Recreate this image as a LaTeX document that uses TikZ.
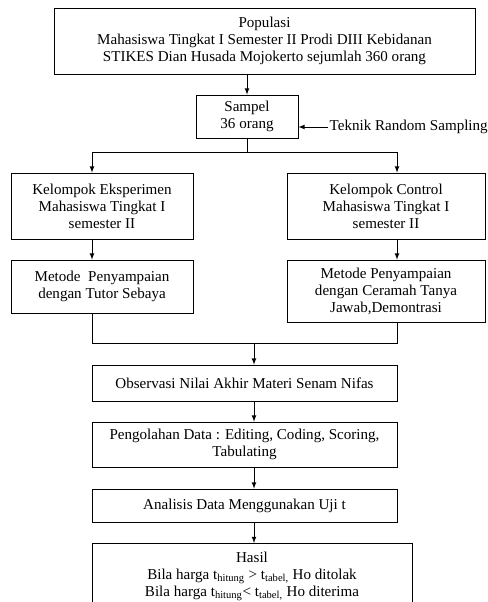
\documentclass[tikz,border=0pt]{standalone}
\usepackage{fontspec}
\setmainfont{Liberation Serif}
\usepackage{tikz}
\usetikzlibrary{positioning}
\usetikzlibrary{shapes.geometric, arrows}
\tikzstyle{arrow} = [->,>=latex]
\tikzstyle{box} = [draw, rectangle, align=center, inner sep=0pt]

\begin{document}
\begin{tikzpicture}[x=0.75pt,y=-0.75pt,line width=0.6pt,
	font=\fontsize{11.3}{12.8}\selectfont]
	\clip (0,0) rectangle (487,602);
	
	%Nodes
	\node [box, minimum width=421*0.75pt, minimum height=66*0.75pt] (populasi) at (264.5,41)
		{Populasi\\Mahasiswa Tingkat I Semester II Prodi DIII Kebidanan\\STIKES Dian Husada Mojokerto sejumlah 360 orang};
	\node [box, minimum width=102*0.75pt, minimum height=43*0.75pt] (sampel) at (247,116.5)
		{Sampel\\36 orang};
	\node [anchor=west, inner sep=1pt] (teknik) at (328,127) {Teknik Random Sampling};
	
	\node [box, minimum width=182*0.75pt, minimum height=66*0.75pt] (eksperimen) at (102,206)
		{Kelompok Eksperimen\\Mahasiswa Tingkat I\\semester II};
	\node [box, minimum width=198*0.75pt, minimum height=66*0.75pt] (control) at (386,206)
		{Kelompok Control\\Mahasiswa Tingkat I\\semester II};
	\node [box, minimum width=182*0.75pt, minimum height=53*0.75pt] (tutor) at (102,286.5)
		{Metode\ \ Penyampaian\\dengan Tutor Sebaya};
	\node [box, minimum width=198*0.75pt, minimum height=62*0.75pt] (ceramah) at (386,291)
		{Metode Penyampaian\\dengan Ceramah Tanya\\Jawab,Demontrasi};
	
	\node [box, minimum width=305*0.75pt, minimum height=36*0.75pt] (observasi) at (244.5,383)
		{Observasi Nilai Akhir Materi Senam Nifas};
	\node [box, minimum width=305*0.75pt, minimum height=45*0.75pt] (pengolahan) at (244.5,444.5)
		{Pengolahan Data : Editing, Coding, Scoring,\\Tabulating};
	\node [box, minimum width=305*0.75pt, minimum height=33*0.75pt] (analisis) at (244.5,505.5)
		{Analisis Data Menggunakan Uji t};
	\node [box, anchor=north, minimum width=320*0.75pt, minimum height=66*0.75pt] (hasil) at (252,543)
		{Hasil\\Bila harga t\textsubscript{hitung} > t\textsubscript{tabel,} Ho ditolak\\
		 Bila harga t\textsubscript{hitung}< t\textsubscript{tabel,} Ho diterima};
	
	%Coordinates
	\coordinate (splitL) at (92,152);
	\coordinate (splitR) at (397,152);
	\coordinate (joinL) at (92,343);
	\coordinate (joinR) at (397,343);
	\coordinate (joinM) at (254,343);
	
	%Lines
	\draw[arrow] (sampel.north |- populasi.south) -- (sampel.north);
	\draw[arrow] (teknik.west) -- (sampel.east |- teknik.west);
	\draw (sampel.south) -- (sampel.south |- splitL);
	\draw (splitL) -- (splitR);
	\draw[arrow] (splitL) -- (splitL |- eksperimen.north);
	\draw[arrow] (splitR) -- (splitR |- control.north);
	\draw[arrow] (splitL |- eksperimen.south) -- (splitL |- tutor.north);
	\draw[arrow] (splitR |- control.south) -- (splitR |- ceramah.north);
	\draw (splitL |- tutor.south) -- (joinL) -- (joinR) -- (splitR |- ceramah.south);
	\draw[arrow] (joinM) -- (joinM |- observasi.north);
	\draw[arrow] (joinM |- observasi.south) -- (joinM |- pengolahan.north);
	\draw[arrow] (joinM |- pengolahan.south) -- (joinM |- analisis.north);
	\draw[arrow] (joinM |- analisis.south) -- (joinM |- hasil.north);
	
\end{tikzpicture}
\end{document}
